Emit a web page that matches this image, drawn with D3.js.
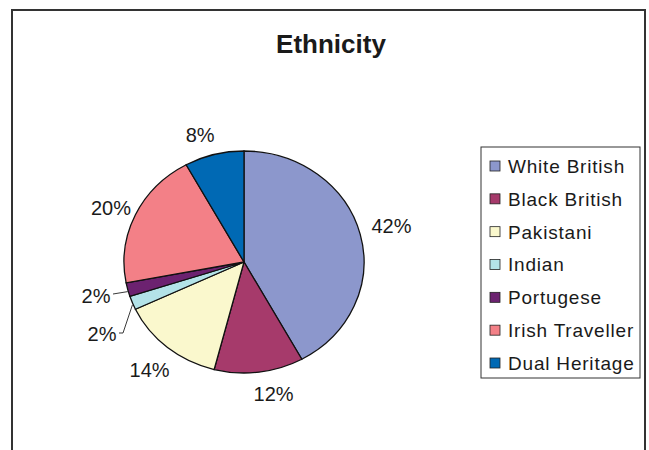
<!DOCTYPE html>
<html><head><meta charset="utf-8">
<script src="https://cdn.jsdelivr.net/npm/d3@7"></script>
<style>body{margin:0;background:#fff}svg{display:block}text{font-family:"Liberation Sans",Arial,sans-serif;fill:#1a1a1a}</style>
</head><body>
<svg id="c" width="649" height="450"></svg>
<script>
const categories = ["White British","Black British","Pakistani","Indian","Portugese","Irish Traveller","Dual Heritage"];
const values = [42, 12, 14, 2, 2, 20, 8];
const colors = ["#8C97CC","#A63A6B","#FAF8CD","#B3E3E8","#6C2270","#F38087","#0069B4"];
const title = "Ethnicity";

const svg = d3.select("#c");
svg.append("rect").attr("x",12).attr("y",10).attr("width",633).attr("height",460)
  .attr("fill","#fff").attr("stroke","#333").attr("stroke-width",2);

svg.append("text").attr("x",331).attr("y",53).attr("text-anchor","middle")
  .style("font-size","26px").style("font-weight","bold").text(title);

const cx=244, cy=262, r=111, sx=120/111;
const data = categories.map((c,i)=>({c, v: values[i], col: colors[i]}));
const pie = d3.pie().value(d=>d.v).sort(null);
const arcs = pie(data);
const arc = d3.arc().innerRadius(0).outerRadius(r);
const g = svg.append("g").attr("transform",`translate(${cx},${cy}) scale(${sx},1)`);
g.selectAll("path").data(arcs).join("path").attr("d",arc)
  .attr("fill",d=>d.data.col).attr("stroke","#111").attr("stroke-width",1.3)
  .attr("vector-effect","non-scaling-stroke");

const labelArc = d3.arc().innerRadius(137).outerRadius(137);
const edgeArc = d3.arc().innerRadius(r).outerRadius(r);
// label placement tweaks (Excel-like placement), small slices moved out with leader lines
const shift = {"White British":[4,-2],"Black British":[11,-4],"Pakistani":[0,2],"Irish Traveller":[1,4],"Dual Heritage":[-7,6]};
const nudge = {"Indian":[102,334], "Portugese":[96,296]};
const lg = svg.append("g");
arcs.forEach(a=>{
  let [x,y] = labelArc.centroid(a); x = cx + x*sx; y = cy + y;
  if (shift[a.data.c]) { x += shift[a.data.c][0]; y += shift[a.data.c][1]; }
  if (nudge[a.data.c]) {
    [x,y] = nudge[a.data.c];
    const [ex,ey0] = edgeArc.centroid(a);
    const ex2 = cx + ex*sx, ey = cy + ey0;
    const pts = a.data.c==="Indian" ? [[119,y-1],[123,y-1],[ex2,ey+2]] : [[113,y-2],[ex2,ey+2]];
    lg.append("path").attr("d",d3.line()(pts)).attr("fill","none").attr("stroke","#222").attr("stroke-width",0.9);
  }
  lg.append("text").attr("x",x).attr("y",y).attr("dy","0.35em").attr("text-anchor","middle")
    .style("font-size","20px").text(d3.format(".0%")(a.data.v/100));
});

// legend
const lx=481, ly=147;
svg.append("rect").attr("x",lx).attr("y",ly).attr("width",159).attr("height",231)
  .attr("fill","#fff").attr("stroke","#333").attr("stroke-width",1);
const y = d3.scalePoint().domain(categories).range([ly+19, ly+216]);
const leg = svg.append("g").selectAll("g").data(data).join("g")
  .attr("transform",d=>`translate(${lx+9},${y(d.c)})`);
leg.append("rect").attr("x",0).attr("y",-5).attr("width",10).attr("height",10)
  .attr("fill",d=>d.col).attr("stroke","#222").attr("stroke-width",0.8);
leg.append("text").attr("x",18).attr("y",0).attr("dy","0.36em")
  .style("font-size","19px").style("letter-spacing","0.8px").text(d=>d.c);
</script>
</body></html>
